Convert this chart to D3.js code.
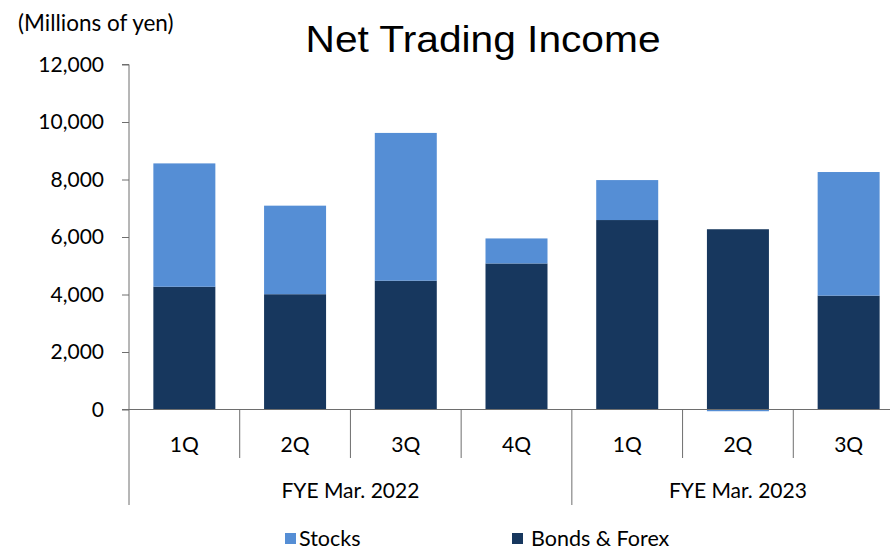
<!DOCTYPE html>
<html>
<head>
<meta charset="utf-8">
<script src="https://cdn.jsdelivr.net/npm/d3@7"></script>
<style>
  body { margin: 0; background: #fff; }
  svg { display: block; font-family: Lato, sans-serif; }
</style>
</head>
<body>
<script>
// data
var quarters = ["1Q", "2Q", "3Q", "4Q", "1Q", "2Q", "3Q"];
var years = ["FYE Mar. 2022", "FYE Mar. 2022", "FYE Mar. 2022", "FYE Mar. 2022",
             "FYE Mar. 2023", "FYE Mar. 2023", "FYE Mar. 2023"];
var bondsForex = [4270, 4010, 4480, 5080, 6590, 6270, 3960];
var stocks = [4290, 3080, 5140, 870, 1390, -60, 4300];
var yTicks = [0, 2000, 4000, 6000, 8000, 10000, 12000];
var seriesNames = ["Bonds & Forex", "Stocks"];

var width = 890, height = 551;
var plot = { left: 129, right: 904, top: 64.5, bottom: 409.5 };
var colors = { "Stocks": "#558ed5", "Bonds & Forex": "#17375e" };
var axisColor = "#6e6e6e";

var svg = d3.select("body").append("svg")
    .attr("width", width)
    .attr("height", height);

var rows = quarters.map(function (q, i) {
    return { idx: i, "Bonds & Forex": bondsForex[i], "Stocks": stocks[i] };
});

var x = d3.scaleBand()
    .domain(d3.range(quarters.length))
    .range([plot.left, plot.right])
    .paddingInner(0.44)
    .paddingOuter(0.22);

var y = d3.scaleLinear()
    .domain([0, 12000])
    .range([plot.bottom, plot.top]);

var stack = d3.stack()
    .keys(seriesNames)
    .offset(d3.stackOffsetDiverging);

// bars
svg.append("g").selectAll("g")
    .data(stack(rows))
    .enter().append("g")
    .attr("fill", function (d) { return colors[d.key]; })
    .selectAll("rect")
    .data(function (d) { return d; })
    .enter().append("rect")
    .attr("x", function (d) { return x(d.data.idx); })
    .attr("width", x.bandwidth())
    .attr("y", function (d) { return y(Math.max(d[0], d[1])); })
    .attr("height", function (d) { return Math.abs(y(d[0]) - y(d[1])); });

// y axis
var yAxis = svg.append("g")
    .attr("transform", "translate(" + plot.left + ",0)")
    .call(d3.axisLeft(y)
        .tickValues(yTicks)
        .tickSize(7)
        .tickPadding(18)
        .tickFormat(d3.format(",")));
yAxis.select(".domain").attr("stroke", axisColor).attr("d", "M0," + y(0) + "V" + y(12000) + "H-7");
yAxis.selectAll(".tick line").attr("stroke", axisColor);
yAxis.selectAll(".tick text")
    .attr("fill", "#000")
    .style("font-size", "21px")
    .style("font-family", "Lato, sans-serif");

// x axis line and category separators
var step = x.step();
var x0 = plot.left;
svg.append("line")
    .attr("x1", plot.left - 7).attr("x2", width)
    .attr("y1", y(0)).attr("y2", y(0))
    .attr("stroke", axisColor);

var seps = d3.range(quarters.length + 1).map(function (i) {
    var long = i === 0 || i === quarters.length || years[i] !== years[i - 1];
    return { x: x0 + i * step, long: long };
});
svg.append("g").selectAll("line")
    .data(seps)
    .enter().append("line")
    .attr("x1", function (d) { return d.x; })
    .attr("x2", function (d) { return d.x; })
    .attr("y1", y(0))
    .attr("y2", function (d) { return d.long ? 505 : 458; })
    .attr("stroke", axisColor);

// quarter labels
svg.append("g").selectAll("text")
    .data(quarters)
    .enter().append("text")
    .attr("x", function (d, i) { return x(i) + x.bandwidth() / 2; })
    .attr("y", 452)
    .attr("text-anchor", "middle")
    .style("font-size", "21px")
    .text(function (d) { return d; });

// year labels
var yearGroups = d3.groups(years.map(function (yr, i) { return { yr: yr, i: i }; }), function (d) { return d.yr; });
svg.append("g").selectAll("text")
    .data(yearGroups)
    .enter().append("text")
    .attr("x", function (d) {
        var first = d[1][0].i, last = d[1][d[1].length - 1].i;
        return x0 + (first + last + 1) * step / 2;
    })
    .attr("y", 498)
    .attr("text-anchor", "middle")
    .style("font-size", "21px")
    .text(function (d) { return d[0]; });

// title
svg.append("text")
    .attr("x", 483)
    .attr("y", 52)
    .attr("text-anchor", "middle")
    .attr("textLength", 355)
    .attr("lengthAdjust", "spacingAndGlyphs")
    .style("font-family", "'Liberation Sans', Arial, sans-serif")
    .style("font-size", "36px")
    .text("Net Trading Income");

// unit label
svg.append("text")
    .attr("x", 18)
    .attr("y", 31)
    .style("font-size", "22.5px")
    .text("(Millions of yen)");

// legend
var legendItems = [
    { name: "Stocks", x: 285, tx: 14 },
    { name: "Bonds & Forex", x: 512, tx: 19 }
];
var lg = svg.append("g").selectAll("g")
    .data(legendItems)
    .enter().append("g")
    .attr("transform", function (d) { return "translate(" + d.x + ",533)"; });
lg.append("rect")
    .attr("width", 11)
    .attr("height", 11)
    .attr("fill", function (d) { return colors[d.name]; });
lg.append("text")
    .attr("x", function (d) { return d.tx; })
    .attr("y", 13)
    .style("font-size", "21.5px")
    .text(function (d) { return d.name; });
</script>
</body>
</html>
